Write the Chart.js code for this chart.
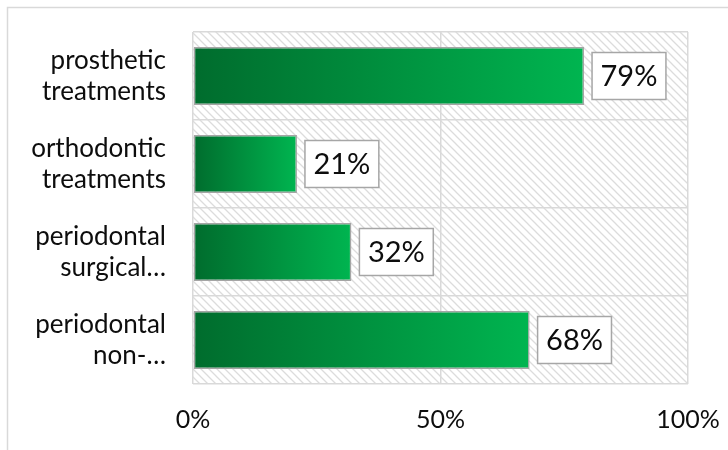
<!DOCTYPE html>
<html>
<head>
<meta charset="utf-8">
<script src="https://cdn.jsdelivr.net/npm/chart.js@4"></script>
<style>
  html, body { margin: 0; padding: 0; background: #fff; }
  #wrap { width: 728px; height: 450px; }
</style>
</head>
<body>
<div id="wrap"><canvas id="chart" width="728" height="450"></canvas></div>
<script>
const categories = [
    ['prosthetic', 'treatments'],
    ['orthodontic', 'treatments'],
    ['periodontal', 'surgical…'],
    ['periodontal', 'non-…']
];
const values = [79, 21, 32, 68];
const xTicks = [0, 50, 100];

const FONT = 'Lato, "Noto Sans", sans-serif';
const GRID = '#d9d9d9';

// diagonal hatch for the plot background
function makeHatch() {
    const c = document.createElement('canvas');
    c.width = 8;
    c.height = 8;
    const g = c.getContext('2d');
    g.strokeStyle = '#dcdcdc';
    g.lineWidth = 1.3;
    g.beginPath();
    g.moveTo(-1, -1); g.lineTo(9, 9);
    g.moveTo(-1, 7); g.lineTo(1, 9);
    g.moveTo(7, -1); g.lineTo(9, 1);
    g.stroke();
    return g.createPattern(c, 'repeat');
}

const backdrop = {
    id: 'backdrop',
    beforeDraw(chart) {
        const ctx = chart.ctx;
        const a = chart.chartArea;
        ctx.save();
        ctx.strokeStyle = GRID;
        ctx.lineWidth = 1.5;
        ctx.strokeRect(7.5, 7.5, 1000, 1000);
        ctx.fillStyle = makeHatch();
        ctx.fillRect(a.left, a.top, a.right - a.left, a.bottom - a.top);
        ctx.restore();
    }
};

const valueBoxes = {
    id: 'valueBoxes',
    afterDatasetsDraw(chart) {
        const ctx = chart.ctx;
        const meta = chart.getDatasetMeta(0);
        ctx.save();
        ctx.font = '29px ' + FONT;
        ctx.textAlign = 'center';
        ctx.textBaseline = 'middle';
        meta.data.forEach((bar, i) => {
            const text = values[i] + '%';
            const w = ctx.measureText(text).width + 17;
            const h = 47;
            const x = bar.x + 8;
            const y = bar.y - h / 2;
            ctx.fillStyle = '#fff';
            ctx.fillRect(x, y, w, h);
            ctx.strokeStyle = '#a6a6a6';
            ctx.lineWidth = 1.5;
            ctx.strokeRect(x, y, w, h);
            ctx.fillStyle = '#0d0d0d';
            ctx.fillText(text, x + w / 2, bar.y + 1);
        });
        ctx.restore();
    }
};

new Chart(document.getElementById('chart'), {
    type: 'bar',
    data: {
        labels: categories,
        datasets: [{
            data: values,
            backgroundColor: (c) => {
                const area = c.chart.chartArea;
                if (!area || c.dataIndex === undefined) return '#00a04a';
                const xs = c.chart.scales.x;
                const x0 = xs.getPixelForValue(0);
                const x1 = xs.getPixelForValue(values[c.dataIndex]);
                const g = c.chart.ctx.createLinearGradient(x0, 0, x1, 0);
                g.addColorStop(0, '#006c2d');
                g.addColorStop(1, '#00b550');
                return g;
            },
            borderColor: '#a5a5a5',
            borderWidth: 1.5,
            borderSkipped: false,
            barPercentage: 0.66,
            categoryPercentage: 1
        }]
    },
    options: {
        indexAxis: 'y',
        responsive: false,
        animation: false,
        layout: { padding: { left: 0, top: 32, right: 40, bottom: 0 } },
        plugins: {
            legend: { display: false },
            tooltip: { enabled: false }
        },
        scales: {
            x: {
                min: 0,
                max: 100,
                afterBuildTicks: (s) => { s.ticks = xTicks.map(v => ({ value: v })); },
                afterFit: (s) => {
                    s.height = 66;
                    s.paddingLeft = 0;
                    s.paddingRight = 0;
                },
                grid: { color: GRID, lineWidth: 1.5, drawTicks: false },
                border: { display: false },
                ticks: {
                    padding: 21,
                    color: '#0d0d0d',
                    font: { family: FONT, size: 25 },
                    callback: (v) => v + '%'
                }
            },
            y: {
                afterFit: (s) => {
                    s.width = 193;
                    s.paddingTop = 0;
                    s.paddingBottom = 0;
                },
                grid: { color: GRID, lineWidth: 1.5, drawTicks: false, offset: true },
                border: { display: false },
                ticks: {
                    padding: 27,
                    color: '#0d0d0d',
                    font: { family: FONT, size: 26, lineHeight: 1.2 }
                }
            }
        }
    },
    plugins: [backdrop, valueBoxes]
});
</script>
</body>
</html>
